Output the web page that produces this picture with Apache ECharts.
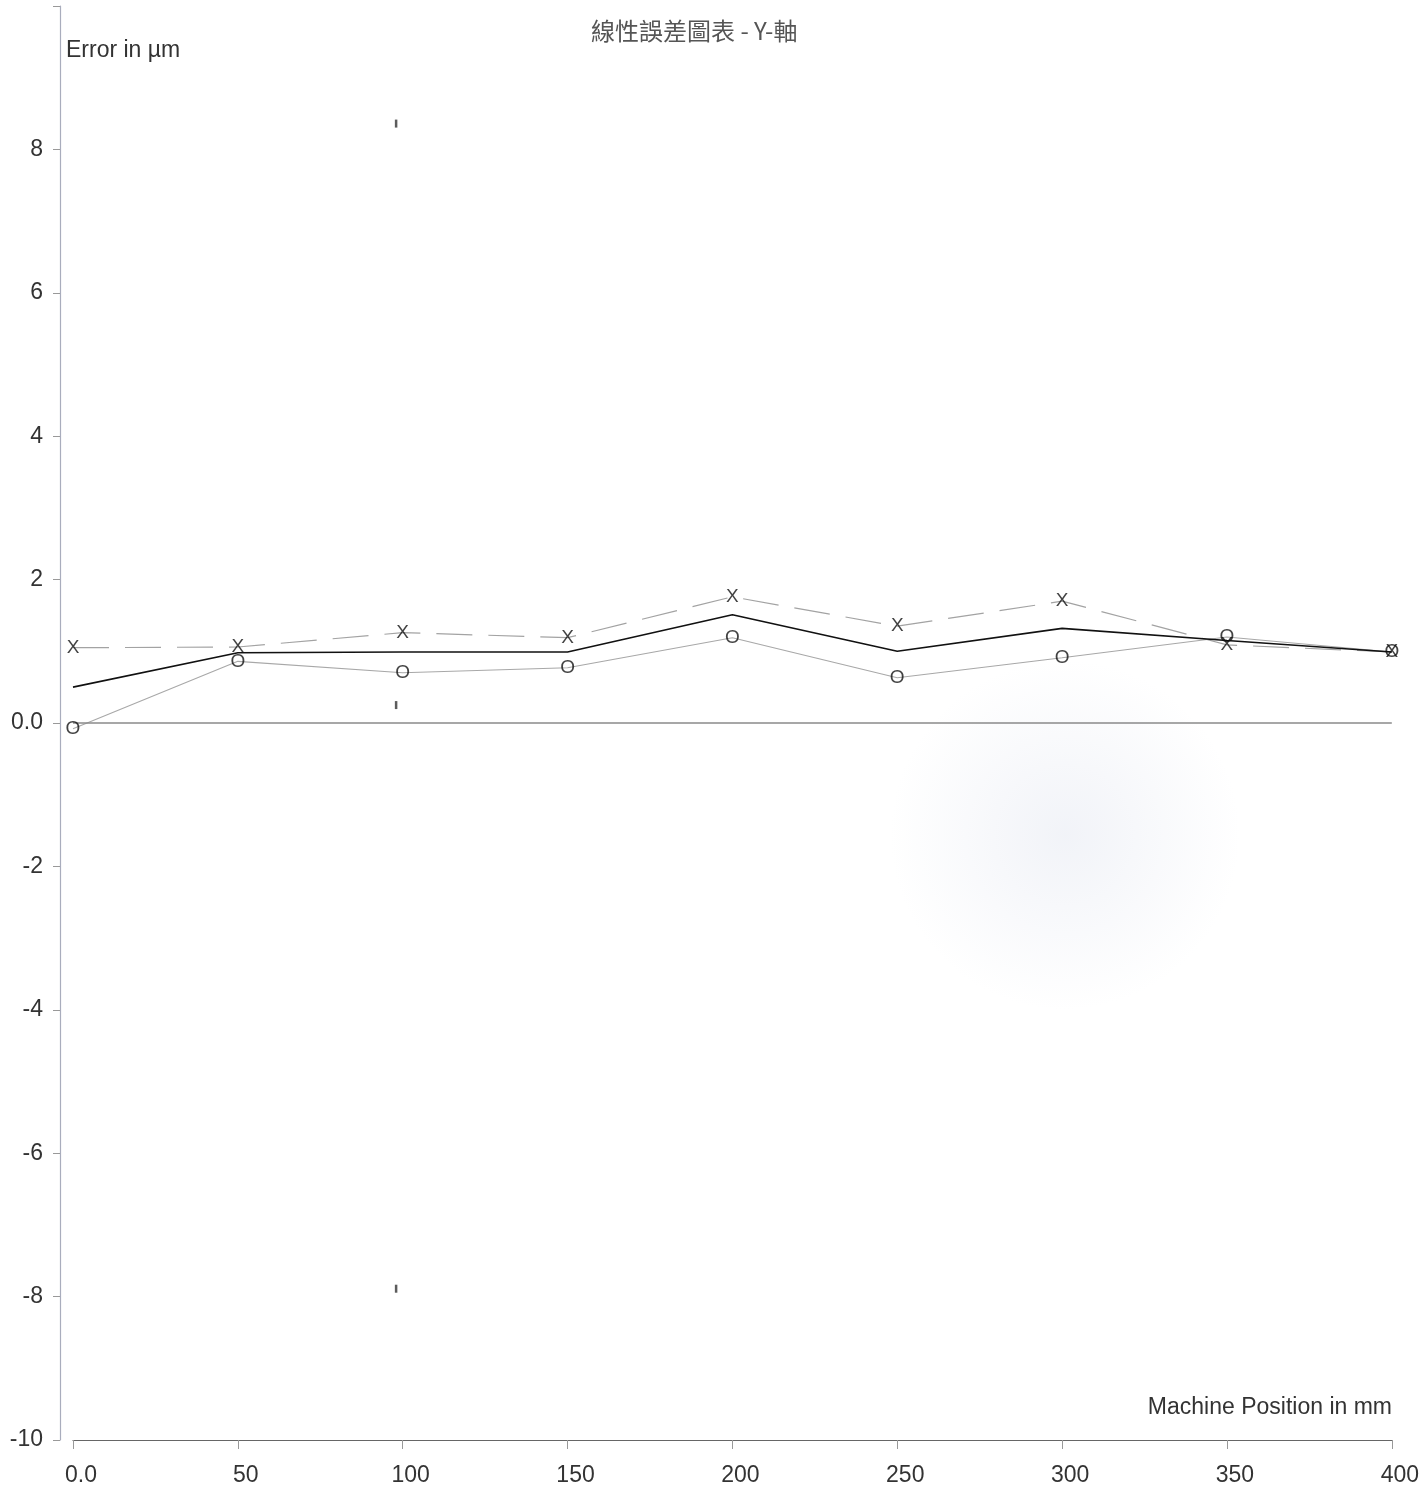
<!DOCTYPE html>
<html>
<head>
<meta charset="utf-8">
<title>線性誤差圖表 - Y-軸</title>
<script src="https://cdn.jsdelivr.net/npm/echarts@6/dist/echarts.min.js"></script>
<style>
  html, body { margin: 0; padding: 0; background: #fff; }
  #chart { width: 1422px; height: 1488px; }
</style>
</head>
<body>
<div id="chart"></div>
<script>
// Machine positions (mm) and measured errors (µm)
const positions = [0, 50, 100, 150, 200, 250, 300, 350, 400];
const forwardRun = [1.05, 1.06, 1.26, 1.19, 1.76, 1.35, 1.70, 1.09, 0.99];
const reverseRun = [-0.08, 0.86, 0.70, 0.77, 1.19, 0.63, 0.91, 1.20, 0.99];
const meanError = [0.50, 0.98, 0.99, 0.99, 1.51, 1.00, 1.32, 1.15, 0.99];

// Short vertical marks near the 100 mm position
const markPosition = [98, 98, 98];
const markValues = [8.36, 0.25, -7.89];

// Axis ticks
const xTicks = [0, 50, 100, 150, 200, 250, 300, 350, 400];
const yTicks = [-10, -8, -6, -4, -2, 0, 2, 4, 6, 8];

const pairs = (xs, ys) => xs.map((x, i) => [x, ys[i]]);
const FONT = '"Liberation Sans", Arial, sans-serif';

const chart = echarts.init(document.getElementById('chart'), null, { renderer: 'canvas' });

function markerSeries(name, data, glyph) {
  return {
    name: name,
    type: 'scatter',
    data: data,
    symbol: 'rect',
    symbolSize: 1,
    itemStyle: { color: 'rgba(0,0,0,0)' },
    label: {
      show: true,
      position: 'inside',
      formatter: glyph,
      color: '#111',
      fontFamily: FONT,
      fontSize: 19
    },
    z: 5,
    silent: true
  };
}

chart.setOption({
  backgroundColor: '#ffffff',
  animation: false,
  title: {
    text: '線性誤差圖表 - Y-軸',
    left: 586,
    top: 14,
    textStyle: {
      fontFamily: '"Noto Sans CJK TC", "Noto Sans CJK SC", sans-serif',
      fontSize: 24,
      fontWeight: 'normal',
      color: '#555'
    }
  },
  graphic: [
    {
      type: 'circle',
      shape: { cx: 1065, cy: 835, r: 175 },
      style: {
        fill: {
          type: 'radial', x: 0.5, y: 0.5, r: 0.5,
          colorStops: [
            { offset: 0, color: 'rgba(210,216,232,0.30)' },
            { offset: 1, color: 'rgba(210,216,232,0)' }
          ]
        }
      },
      z: -10,
      silent: true
    },
    {
      type: 'text',
      left: 66,
      top: 39,
      style: { text: 'Error in µm', fontFamily: FONT, fontSize: 23, fill: '#333' }
    },
    {
      type: 'text',
      right: 30,
      top: 1396,
      style: { text: 'Machine Position in mm', fontFamily: FONT, fontSize: 23, fill: '#333' }
    }
  ],
  grid: { left: 73, right: 30, top: 6, bottom: 48, containLabel: false },
  xAxis: {
    type: 'value',
    min: 0,
    max: 400,
    interval: 50,
    axisLine: { show: true, onZero: false, lineStyle: { color: '#666', width: 1.2 } },
    axisTick: { show: true, length: 9, lineStyle: { color: '#999' } },
    splitLine: { show: false },
    axisLabel: {
      fontFamily: FONT,
      fontSize: 23,
      color: '#333',
      margin: 24,
      padding: [0, 0, 0, 16],
      formatter: v => (v === 0 ? '0.0' : String(v))
    }
  },
  yAxis: {
    type: 'value',
    min: -10,
    max: 10,
    interval: 2,
    offset: 13,
    axisLine: { show: true, onZero: false, lineStyle: { color: '#a9adbd', width: 1.2 } },
    axisTick: { show: true, length: 7, lineStyle: { color: '#999' } },
    splitLine: { show: false },
    axisLabel: {
      fontFamily: FONT,
      fontSize: 23,
      color: '#333',
      margin: 17,
      verticalAlign: 'middle',
      padding: [0, 0, 12, 0],
      formatter: v => (v === 10 ? '' : v === 0 ? '0.0' : String(v))
    }
  },
  series: [
    {
      name: 'forward',
      type: 'line',
      data: pairs(positions, forwardRun),
      showSymbol: false,
      lineStyle: { color: '#a3a3a3', width: 1.2, type: [36, 16] },
      z: 2,
      silent: true
    },
    {
      name: 'reverse',
      type: 'line',
      data: pairs(positions, reverseRun),
      showSymbol: false,
      lineStyle: { color: '#a8a8a8', width: 1.1 },
      z: 2,
      silent: true
    },
    {
      name: 'mean',
      type: 'line',
      data: pairs(positions, meanError),
      showSymbol: false,
      lineStyle: { color: '#111', width: 1.6 },
      z: 3,
      silent: true,
      markLine: {
        silent: true,
        symbol: 'none',
        label: { show: false },
        lineStyle: { color: '#8a8a8a', width: 1.5, type: 'solid' },
        data: [{ yAxis: 0 }]
      }
    },
    markerSeries('forward marks', pairs(positions, forwardRun), 'X'),
    markerSeries('reverse marks', pairs(positions, reverseRun), 'O'),
    {
      name: 'ticks',
      type: 'scatter',
      data: pairs(markPosition, markValues),
      symbol: 'rect',
      symbolSize: [2.5, 8],
      itemStyle: { color: '#333' },
      z: 4,
      silent: true
    }
  ]
});
</script>
</body>
</html>
